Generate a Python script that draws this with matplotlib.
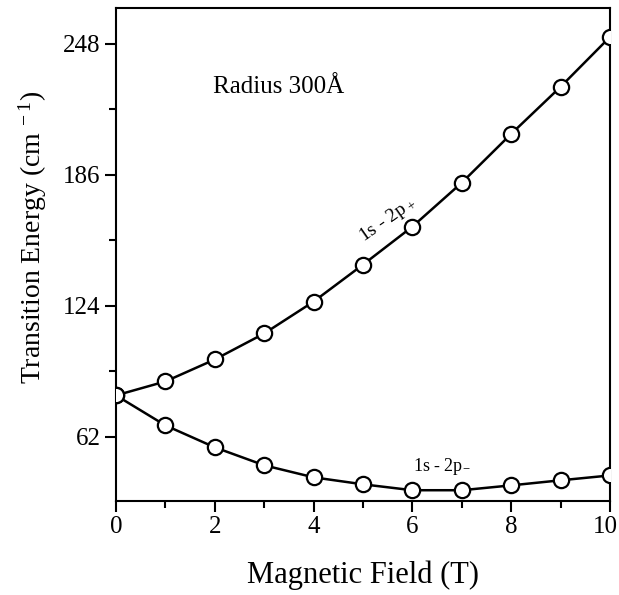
import matplotlib
matplotlib.use("Agg")
import matplotlib.pyplot as plt
from matplotlib.ticker import MultipleLocator
from matplotlib.transforms import ScaledTranslation

field = [0, 1, 2, 3, 4, 5, 6, 7, 8, 9, 10]
e_plus = [81.6, 88.2, 98.6, 110.9, 126.0, 143.5, 161.5, 182.3, 205.4, 227.7, 251.3]
e_minus = [81.6, 67.4, 57.0, 48.5, 42.8, 39.5, 36.7, 36.7, 39.0, 41.4, 43.7]
yticks = [62, 124, 186, 248]
xticks = [0, 2, 4, 6, 8, 10]

plt.rcParams['font.family'] = ['Liberation Serif', 'DejaVu Serif']
plt.rcParams['mathtext.fontset'] = 'custom'
plt.rcParams['mathtext.rm'] = 'Liberation Serif'
plt.rcParams['mathtext.it'] = 'Liberation Serif:italic'
fig = plt.figure(figsize=(6.19, 5.95), dpi=100)
ax = fig.add_axes([116/619, 94/595, 494/619, 493/595])

for ys in (e_plus, e_minus):
    ax.plot(field, ys, color='black', lw=1.8, marker='o', ms=11,
            mfc='white', mec='black', mew=1.6, clip_on=True, zorder=3)

ax.set_xlim(0, 10)
ax.set_ylim(31.6, 265)
ax.set_xticks(xticks)
ax.xaxis.set_minor_locator(MultipleLocator(1))
ax.set_yticks(yticks)
ax.yaxis.set_minor_locator(MultipleLocator(31))
ax.tick_params(which='both', direction='out', top=False, right=False,
               labelsize=18, width=1.5)
ax.tick_params(which='major', length=8, pad=3)
ax.tick_params(which='minor', length=5)
for s in ax.spines.values():
    s.set_linewidth(1.5)

fig.canvas.draw()
last = ax.get_xticklabels()[-1]
last.set_transform(last.get_transform() + ScaledTranslation(-5/100, 0, fig.dpi_scale_trans))

ax.set_xlabel('Magnetic Field (T)', fontsize=22, labelpad=16)
ax.set_ylabel('Transition Energy (cm$^{\\mathregular{\\ -1}}$)', fontsize=20)
ax.yaxis.set_label_coords(-0.135, 0.535)

ax.text(0.33, 0.84, 'Radius 300Å', transform=ax.transAxes, fontsize=18,
        ha='center', va='center')
ax.text(5.5, 165, '1s - 2p$_{\\ \\mathregular{+}}$', fontsize=14, rotation=35,
        ha='center', va='center')
ax.text(6.6, 48, '1s - 2p$_{\\mathregular{-}}$', fontsize=13, ha='center', va='center')

fig.savefig('out.png', dpi=100)
